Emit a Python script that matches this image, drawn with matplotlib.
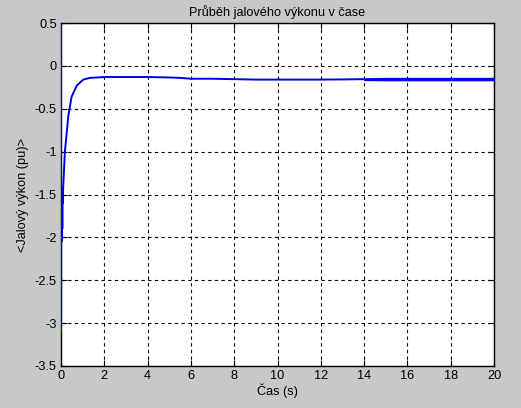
import matplotlib.pyplot as plt
import numpy as np

# Průběh jalového výkonu
cas = [0.0, 0.0, 0.005, 0.01, 0.02, 0.03, 0.04, 0.05, 0.06, 0.07, 0.08, 0.1,
       0.18, 0.34, 0.49, 0.73, 1.03, 1.34, 1.7, 2.0, 3.0, 4.0, 5.0, 5.5,
       6.0, 7.0, 8.0, 9.0, 10.0, 11.0, 12.0, 13.0, 14.0]
vykon = [0.6, -3.1, -2.9, -1.45, -2.05, -1.42, -2.0, -1.45, -1.9, -1.45, -1.6, -1.42,
         -1.0, -0.58, -0.36, -0.23, -0.16, -0.14, -0.135, -0.13, -0.13, -0.13, -0.135, -0.14,
         -0.15, -0.15, -0.155, -0.16, -0.16, -0.16, -0.16, -0.158, -0.155]

# zašuměný úsek na konci (obálka)
cas_konec = [14.0, 15.0, 16.0, 17.0, 18.0, 19.0, 20.0]
horni = [-0.145, -0.14, -0.14, -0.14, -0.14, -0.14, -0.14]
dolni = [-0.165, -0.168, -0.168, -0.168, -0.168, -0.168, -0.168]

x_ticks = [0, 2, 4, 6, 8, 10, 12, 14, 16, 18, 20]
y_ticks = [0.5, 0, -0.5, -1, -1.5, -2, -2.5, -3, -3.5]

plt.rcParams['font.family'] = ['Liberation Sans', 'DejaVu Sans']
plt.rcParams['font.size'] = 9.2

fig = plt.figure(figsize=(5.21, 4.08), dpi=100, facecolor='#c8c8c8')
ax = fig.add_axes([61 / 521, 42 / 408, 433 / 521, 343 / 408])
ax.set_facecolor('white')

ax.plot(cas, vykon, color='#0000e6', linewidth=1.4, zorder=3)
ax.fill_between(cas_konec, dolni, horni, color='#0000e6', linewidth=0.8,
                edgecolor='#0000e6', zorder=3)

ax.set_xlim(0, 20)
ax.set_ylim(-3.5, 0.5)
ax.set_xticks(x_ticks)
ax.set_xticklabels([str(v) for v in x_ticks])
ax.set_yticks(y_ticks)
ax.set_yticklabels(['0.5', '0', '-0.5', '-1', '-1.5', '-2', '-2.5', '-3', '-3.5'])

ax.grid(True, color='black', linestyle=(0, (3, 3)), linewidth=0.8)
ax.tick_params(direction='in', length=4, width=0.8, top=True, right=True,
               colors='black', pad=3)
for s in ax.spines.values():
    s.set_linewidth(1.0)

ax.set_title('Průběh jalového výkonu v čase', fontsize=9.2, pad=5)
ax.set_xlabel('Čas (s)', labelpad=1)
ax.set_ylabel('<Jalový výkon (pu)>', labelpad=4)

fig.savefig('out.png', dpi=100, facecolor=fig.get_facecolor())
